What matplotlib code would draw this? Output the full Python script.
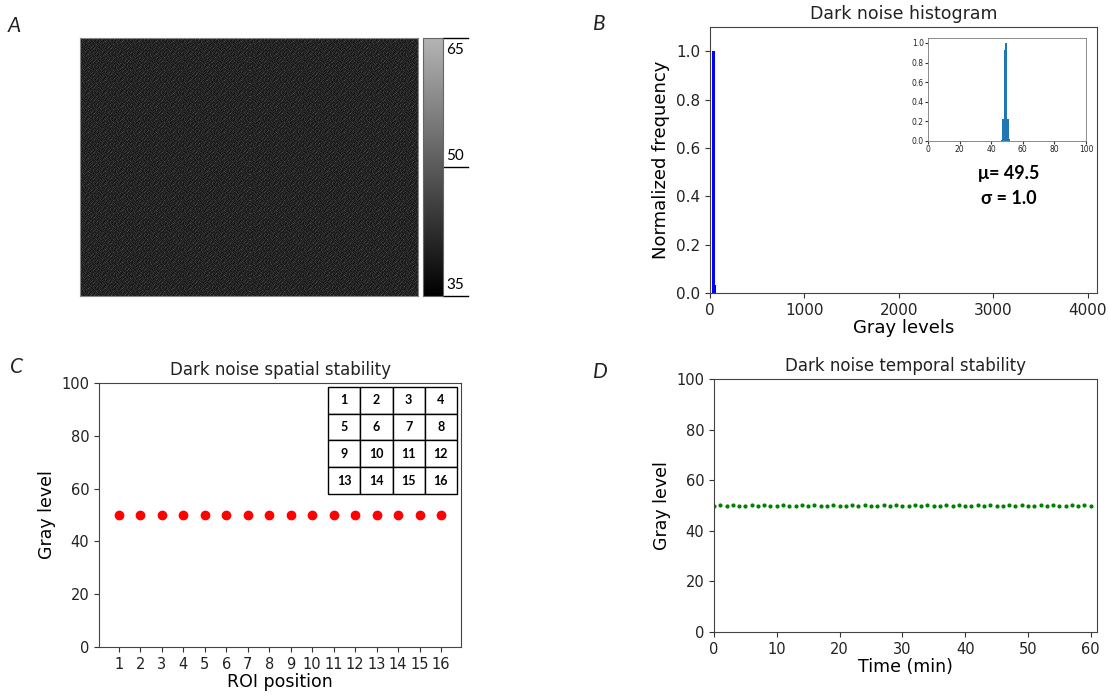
import matplotlib
matplotlib.use('Agg')
import matplotlib.pyplot as plt
import numpy as np
from matplotlib.colors import LinearSegmentedColormap

# --- data -----------------------------------------------------------------
# dark frame pixel patch (gray levels), tiled over the sensor image
pixel_patch = [
    [41, 40, 43, 39, 42, 44, 40, 41, 38, 42, 45, 41, 40, 39, 43, 42, 40],
    [47, 41, 39, 42, 40, 44, 41, 38, 43, 40, 42, 41, 39, 46, 40, 42, 39],
    [41, 39, 44, 40, 43, 41, 38, 42, 40, 45, 41, 39, 42, 43, 40, 38, 44],
    [41, 38, 44, 42, 40, 41, 39, 43, 48, 40, 42, 41, 39, 44, 40, 42, 41],
    [38, 41, 43, 40, 42, 39, 45, 41, 40, 43, 39, 42, 41, 40, 44, 38, 42],
    [42, 41, 40, 46, 39, 42, 43, 40, 41, 39, 42, 44, 40, 38, 41, 43, 40],
    [40, 43, 39, 41, 45, 40, 38, 42, 41, 44, 40, 39, 43, 41, 42, 40, 47],
    [44, 39, 42, 40, 41, 38, 43, 40, 46, 41, 39, 42, 40, 43, 39, 41, 40],
    [39, 42, 41, 43, 40, 44, 41, 39, 42, 38, 43, 40, 45, 41, 40, 42, 43],
    [43, 40, 38, 41, 42, 40, 39, 44, 41, 42, 40, 46, 41, 38, 42, 44, 39],
    [40, 45, 42, 39, 40, 43, 42, 41, 38, 40, 44, 41, 39, 42, 47, 40, 41],
    [42, 39, 41, 44, 38, 41, 40, 42, 43, 41, 39, 40, 42, 45, 39, 41, 43],
    [39, 41, 40, 42, 43, 39, 46, 40, 41, 42, 38, 43, 40, 41, 40, 39, 42],
]
cbar_ticks = [35, 50, 65]

# histogram of gray levels (inset, 1-level bins)
inset_levels = [45, 46, 47, 48, 49, 50, 51, 52, 53]
inset_freq = [0.003, 0.012, 0.22, 0.93, 1.0, 0.22, 0.02, 0.005, 0.002]
# full-range histogram (coarse bins)
main_bin_centers = [40, 50]
main_freq = [1.0, 0.035]

# spatial stability
roi_pos = [1, 2, 3, 4, 5, 6, 7, 8, 9, 10, 11, 12, 13, 14, 15, 16]
roi_gray = [49.9, 50.0, 49.9, 50.0, 50.0, 49.9, 50.0, 50.0,
            49.9, 50.0, 50.0, 49.9, 50.0, 50.0, 49.9, 50.0]
roi_grid = [['1', '2', '3', '4'], ['5', '6', '7', '8'],
            ['9', '10', '11', '12'], ['13', '14', '15', '16']]

# temporal stability
time_min = [0, 1, 2, 3, 4, 5, 6, 7, 8, 9, 10, 11, 12, 13, 14, 15, 16, 17, 18, 19,
            20, 21, 22, 23, 24, 25, 26, 27, 28, 29, 30, 31, 32, 33, 34, 35, 36, 37,
            38, 39, 40, 41, 42, 43, 44, 45, 46, 47, 48, 49, 50, 51, 52, 53, 54, 55,
            56, 57, 58, 59, 60]
time_gray = [49.9, 50.0, 49.9, 50.0, 49.9, 49.9, 50.0, 49.9, 50.0, 49.9, 49.9,
             50.0, 49.9, 49.9, 50.0, 49.9, 50.0, 49.9, 49.9, 50.0, 49.9, 49.9,
             50.0, 49.9, 50.0, 49.9, 49.9, 50.0, 49.9, 50.0, 49.9, 49.9, 50.0,
             49.9, 50.0, 49.9, 49.9, 50.0, 49.9, 50.0, 49.9, 49.9, 50.0, 49.9,
             50.0, 49.9, 49.9, 50.0, 49.9, 50.0, 49.9, 49.9, 50.0, 49.9, 50.0,
             49.9, 49.9, 50.0, 49.9, 50.0, 49.9]

plt.rcParams['text.color'] = '#222222'
plt.rcParams['axes.edgecolor'] = '#444444'
plt.rcParams['xtick.color'] = '#333333'
plt.rcParams['ytick.color'] = '#333333'
plt.rcParams['xtick.labelcolor'] = '#222222'
plt.rcParams['ytick.labelcolor'] = '#222222'
letter_font = dict(fontsize=15, style='italic', family=['Lato', 'DejaVu Sans'])

fig = plt.figure(figsize=(11.09, 6.98), dpi=100)

# ---- A: dark frame ----
axA = fig.add_axes([0.0721, 0.5759, 0.3048, 0.3696])
patch = np.array(pixel_patch, dtype=float)
img = np.tile(patch, (20, 20))[:258, :338]
cmap = LinearSegmentedColormap.from_list('dark', ['black', '#b4b4b4'])
im = axA.imshow(img, cmap=cmap, vmin=35, vmax=65, aspect='auto', interpolation='nearest')
axA.set_xticks([])
axA.set_yticks([])
for s in axA.spines.values():
    s.set_color('#888888')

cax = fig.add_axes([0.3814, 0.5759, 0.018, 0.3696])
cb = fig.colorbar(im, cax=cax)
cb.set_ticks([])
cb.outline.set_edgecolor('#666666')
for v in cbar_ticks:
    yy = (v - 35) / 30.0
    cax.plot([1.0, 2.25], [yy, yy], color='black', lw=1, transform=cax.transAxes, clip_on=False)
    if v == 65:
        cax.text(1.15, yy - 0.02, str(v), transform=cax.transAxes, ha='left', va='top',
                 fontsize=11, family=['Lato', 'DejaVu Sans'], color='black')
    else:
        cax.text(1.15, yy + 0.015, str(v), transform=cax.transAxes, ha='left', va='bottom',
                 fontsize=11, family=['Lato', 'DejaVu Sans'], color='black')
fig.text(8 / 1109, 1 - 32 / 698, 'A', **letter_font)

# ---- B: histogram ----
axB = fig.add_axes([0.6402, 0.5802, 0.349, 0.3811])
axB.bar(main_bin_centers, main_freq, width=30, color='blue')
axB.set_xlim(0, 4096)
axB.set_ylim(0, 1.1)
axB.set_xticks([0, 1000, 2000, 3000, 4000])
axB.set_yticks([0.0, 0.2, 0.4, 0.6, 0.8, 1.0])
axB.tick_params(labelsize=11)
axB.set_title('Dark noise histogram', fontsize=12.5)
axB.set_xlabel('Gray levels', fontsize=13, labelpad=1)
axB.set_ylabel('Normalized frequency', fontsize=13)
fig.text(593 / 1109, 1 - 30 / 698, 'B', **letter_font)

axI = fig.add_axes([0.8368, 0.798, 0.1425, 0.1476])
axI.bar(inset_levels, inset_freq, width=1.0, align='edge', color='#1f77b4')
axI.set_xlim(0, 100)
axI.set_ylim(0, 1.05)
axI.set_xticks([0, 20, 40, 60, 80, 100])
axI.set_yticks([0.0, 0.2, 0.4, 0.6, 0.8, 1.0])
axI.tick_params(labelsize=5.5, length=2, pad=1)
for s in axI.spines.values():
    s.set_linewidth(0.6)
    s.set_color('#777777')
fig.text(1009 / 1109, 1 - 174 / 698, 'μ= 49.5', ha='center', va='center', fontsize=13,
         fontweight='bold', family=['Lato', 'Open Sans', 'DejaVu Sans'], color='black')
fig.text(1009 / 1109, 1 - 198 / 698, 'σ = 1.0', ha='center', va='center', fontsize=13,
         fontweight='bold', family=['Lato', 'Open Sans', 'DejaVu Sans'], color='black')

# ---- C: spatial stability ----
axC = fig.add_axes([0.0893, 0.0731, 0.3264, 0.3782])
axC.plot(roi_pos, roi_gray, 'o', color='red', markersize=6)
axC.set_xlim(0.07, 16.93)
axC.set_ylim(0, 100)
axC.set_xticks(roi_pos)
axC.set_yticks([0, 20, 40, 60, 80, 100])
axC.tick_params(labelsize=10.5)
axC.set_title('Dark noise spatial stability', fontsize=12)
axC.set_xlabel('ROI position', fontsize=12.5, labelpad=1)
axC.set_ylabel('Gray level', fontsize=12.5)
fig.text(10 / 1109, 1 - 373 / 698, 'C', **letter_font)

axT = fig.add_axes([0.2958, 0.2923, 0.1163, 0.1533])
axT.axis('off')
tab = axT.table(cellText=roi_grid, cellLoc='center', bbox=[0, 0, 1, 1])
tab.auto_set_font_size(False)
for cell in tab.get_celld().values():
    cell.set_linewidth(1.0)
    cell.get_text().set_fontsize(9)
    cell.get_text().set_fontweight('bold')
    cell.get_text().set_family(['Lato', 'DejaVu Sans'])
    cell.get_text().set_color('black')

# ---- D: temporal stability ----
axD = fig.add_axes([0.6438, 0.0946, 0.3454, 0.3625])
axD.plot(time_min, time_gray, '.', color='green', markersize=4)
axD.set_xlim(0, 61)
axD.set_ylim(0, 100)
axD.set_xticks([0, 10, 20, 30, 40, 50, 60])
axD.set_yticks([0, 20, 40, 60, 80, 100])
axD.tick_params(labelsize=10.5)
axD.set_title('Dark noise temporal stability', fontsize=12)
axD.set_xlabel('Time (min)', fontsize=12.5, labelpad=1)
axD.set_ylabel('Gray level', fontsize=12.5)
fig.text(593 / 1109, 1 - 378 / 698, 'D', **letter_font)

fig.savefig('out.png', dpi=100)
